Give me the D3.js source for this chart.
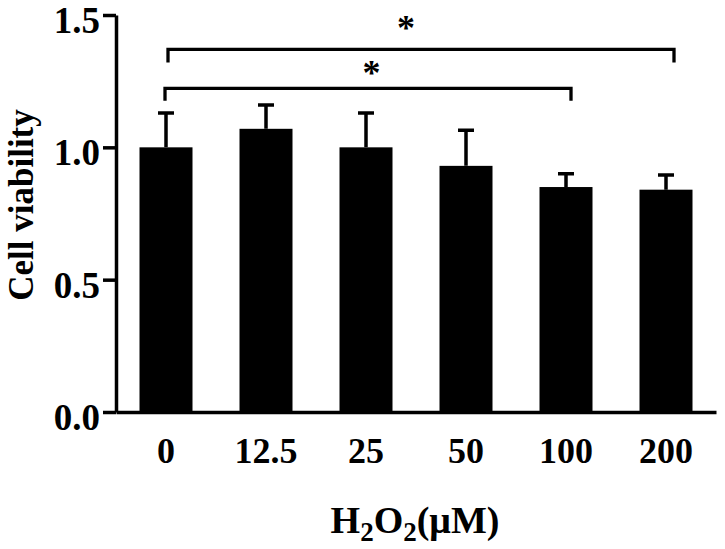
<!DOCTYPE html>
<html>
<head>
<meta charset="utf-8">
<style>
  body { margin: 0; background: #fff; }
  svg text { font-family: "Liberation Serif", "Times New Roman", serif; font-weight: bold; fill: #000; }
  .axis path, .axis line { stroke: #000; stroke-width: 3.5px; }
  .bar { fill: #000; }
  .err { stroke: #000; stroke-width: 3.5px; fill: none; }
  .bracket { stroke: #000; stroke-width: 3.3px; fill: none; }
</style>
<script src="https://cdnjs.cloudflare.com/ajax/libs/d3/7.8.5/d3.min.js"></script>
</head>
<body>
<script>
// data
var doses = ["0", "12.5", "25", "50", "100", "200"];
var viability = [1.00, 1.07, 1.00, 0.93, 0.85, 0.84];
var sd = [0.13, 0.09, 0.13, 0.135, 0.05, 0.055];
var yTicks = [0, 0.5, 1.0, 1.5];
// significance brackets: from / to category index, height in data units
var bracketFrom = [0, 0];
var bracketTo = [5, 4];
var bracketY = [1.37, 1.223];
var bracketText = ["*", "*"];

var width = 725, height = 549;
var svg = d3.select("body").append("svg")
  .attr("width", width)
  .attr("height", height);

var x = d3.scaleBand().domain(doses).range([116, 716])
  .paddingInner(0.47).paddingOuter(0.235);
var y = d3.scaleLinear().domain([0, 1.5]).range([412, 15]);

// bars
svg.selectAll(".bar")
  .data(viability)
  .enter().append("rect")
  .attr("class", "bar")
  .attr("x", function(d, i) { return x(doses[i]); })
  .attr("y", function(d) { return y(d); })
  .attr("width", x.bandwidth())
  .attr("height", function(d) { return y(0) - y(d); });

// error bars (upper only)
var capW = 16;
svg.selectAll(".err")
  .data(viability)
  .enter().append("path")
  .attr("class", "err")
  .attr("d", function(d, i) {
    var cx = x(doses[i]) + x.bandwidth() / 2;
    var top = y(d + sd[i]);
    return "M" + cx + "," + y(d) + "V" + top +
      "M" + (cx - capW / 2) + "," + top + "H" + (cx + capW / 2);
  });

// axes
var yAxis = svg.append("g")
  .attr("class", "axis")
  .attr("transform", "translate(116,0)")
  .call(d3.axisLeft(y).tickValues(yTicks).tickFormat(d3.format(".1f"))
    .tickSize(13).tickSizeOuter(0).tickPadding(3));
yAxis.selectAll("text")
  .attr("dy", "0.47em")
  .style("font-size", "37px");

var xAxis = svg.append("g")
  .attr("class", "axis")
  .attr("transform", "translate(0,412)")
  .call(d3.axisBottom(x).tickSize(0).tickSizeOuter(0));
xAxis.selectAll("text")
  .attr("dy", null)
  .attr("y", 51)
  .style("font-size", "36px");

// brackets with stars (small pixel nudges to match the figure)
var offL = [2, -1], offR = [8, 5], drop = [13, 12.4];
var starDx = [-15, 3.6], starDy = [-9, -3.3];
bracketY.forEach(function(v, k) {
  var x1 = x(doses[bracketFrom[k]]) + x.bandwidth() / 2 + offL[k];
  var x2 = x(doses[bracketTo[k]]) + x.bandwidth() / 2 + offR[k];
  var yy = y(v);
  svg.append("path")
    .attr("class", "bracket")
    .attr("d", "M" + x1 + "," + (yy + drop[k]) + "V" + yy + "H" + x2 + "V" + (yy + drop[k]));
  svg.append("text")
    .attr("x", (x1 + x2) / 2 + starDx[k])
    .attr("y", yy + starDy[k])
    .attr("text-anchor", "middle")
    .style("font-size", "36px")
    .text(bracketText[k]);
});

// axis titles
svg.append("text")
  .attr("transform", "translate(33,205) rotate(-90)")
  .attr("text-anchor", "middle")
  .style("font-size", "35px")
  .text("Cell viability");

var xt = svg.append("text")
  .attr("x", 415)
  .attr("y", 533)
  .attr("text-anchor", "middle")
  .style("font-size", "38px");
xt.append("tspan").text("H");
xt.append("tspan").attr("dy", 8).style("font-size", "27px").text("2");
xt.append("tspan").attr("dy", -8).text("O");
xt.append("tspan").attr("dy", 8).style("font-size", "27px").text("2");
xt.append("tspan").attr("dy", -8).text("(\u03bcM)");
</script>
</body>
</html>
